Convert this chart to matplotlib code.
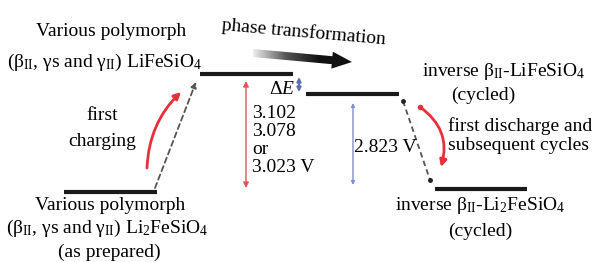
import numpy as np
import matplotlib
matplotlib.use("Agg")
import matplotlib.pyplot as plt
from matplotlib.patches import FancyArrow
from matplotlib.colors import LinearSegmentedColormap

plt.rcParams["font.family"] = ["Liberation Serif", "DejaVu Serif"]
plt.rcParams["mathtext.fontset"] = "custom"
plt.rcParams["mathtext.rm"] = "Liberation Serif"
plt.rcParams["mathtext.it"] = "Liberation Serif:italic"

# energy levels (x span and height in picture units)
level_names = ["LiFeSiO4 (various)", "inverse LiFeSiO4", "Li2FeSiO4 (as prepared)", "inverse Li2FeSiO4"]
level_left = [200, 306, 64, 435]
level_right = [293, 399, 157, 527]
level_y = [74, 94, 192, 189]

# voltage labels
first_voltages = ["3.102", "3.078", "or", "3.023 V"]
cycled_voltage = "2.823 V"

FS = 14
RED = "#e8303a"
BLUE = "#5a6fb8"

fig = plt.figure(figsize=(5.97, 2.62), dpi=100)
ax = fig.add_axes([0, 0, 1, 1])
ax.set_xlim(0, 597)
ax.set_ylim(262, 0)
ax.axis("off")

# level bars
for x0, x1, y in zip(level_left, level_right, level_y):
    ax.plot([x0, x1], [y, y], color="#1a1a1a", lw=3, solid_capstyle="butt")

# dashed transition lines
ax.annotate("", xy=(level_left[0] - 4, level_y[0] + 8), xytext=(level_right[2] - 2, level_y[2] - 4),
            arrowprops=dict(arrowstyle="-|>", color="#555555", lw=1.3, ls=(0, (3, 2)),
                            mutation_scale=8, shrinkA=0, shrinkB=0))
ax.plot([level_right[1] + 4, level_left[3] - 5], [level_y[1] + 7, level_y[3] - 9],
        color="#555555", lw=1.3, ls=(0, (3, 2)))
ax.plot([level_right[1] + 4, level_left[3] - 5], [level_y[1] + 7, level_y[3] - 9],
        "o", color="#222222", ms=2.5)

# curved red arrows
ax.annotate("", xy=(181, 92), xytext=(147, 168),
            arrowprops=dict(arrowstyle="-|>", color=RED, lw=2, mutation_scale=10,
                            connectionstyle="arc3,rad=-0.2", shrinkA=0, shrinkB=0))
ax.annotate("", xy=(441, 167), xytext=(420, 107),
            arrowprops=dict(arrowstyle="-|>", color=RED, lw=2, mutation_scale=10,
                            connectionstyle="arc3,rad=-0.35", shrinkA=0, shrinkB=0))
ax.plot([420], [107], "o", color=RED, ms=3)

# voltage arrows
xv = 246
ax.annotate("", xy=(xv, level_y[0] + 7), xytext=(xv, level_y[2] - 4),
            arrowprops=dict(arrowstyle="<|-|>", color="#e8505c", lw=1, mutation_scale=8,
                            shrinkA=0, shrinkB=0))
ax.annotate("", xy=(353, level_y[1] + 9), xytext=(353, level_y[3] - 4),
            arrowprops=dict(arrowstyle="<|-|>", color="#8090c8", lw=1, mutation_scale=5,
                            shrinkA=0, shrinkB=0))
ax.annotate("", xy=(299, 77), xytext=(299, 92),
            arrowprops=dict(arrowstyle="<|-|>", color=BLUE, lw=1.5, mutation_scale=6,
                            shrinkA=0, shrinkB=0))

# phase transformation arrow with gradient
arrow = FancyArrow(253, 53, 99, 9, width=8, head_width=17, head_length=20,
                   length_includes_head=True, fc="none", ec="none")
ax.add_patch(arrow)
cmap = LinearSegmentedColormap.from_list("g", ["#eeeeee", "#555555", "#111111", "#111111"])
grad = np.linspace(0, 1, 256).reshape(1, -1)
img = ax.imshow(grad, cmap=cmap, extent=[253, 352, 72, 42], aspect="auto", zorder=3)
img.set_clip_path(arrow)
ax.set_xlim(0, 597)
ax.set_ylim(262, 0)

# text
tk = dict(fontsize=FS, ha="center", va="center")
ax.text(111, 32, "Various polymorph", **tk)
ax.text(105, 62, r"(β$_{\rm II}$, γs and γ$_{\rm II}$) LiFeSiO$_4$", **tk)
ax.text(304, 32, "phase transformation", rotation=-5, **tk)
ax.text(282, 89, r"$\Delta E$", **tk)
for i, s in enumerate(first_voltages):
    ax.text(252, 113 + i * 18.3, s, fontsize=FS, ha="left", va="center")
ax.text(354, 147, cycled_voltage, fontsize=FS, ha="left", va="center")
ax.text(503, 72, r"inverse β$_{\rm II}$-LiFeSiO$_4$", **tk)
ax.text(483, 95, "(cycled)", **tk)
ax.text(102, 115, "first", **tk)
ax.text(102, 142, "charging", **tk)
ax.text(448, 126, "first discharge and", fontsize=FS, ha="left", va="center")
ax.text(448, 145, "subsequent cycles", fontsize=FS, ha="left", va="center")
ax.text(110, 205, "Various polymorph", **tk)
ax.text(107, 228, r"(β$_{\rm II}$, γs and γ$_{\rm II}$) Li$_2$FeSiO$_4$", **tk)
ax.text(109, 252, "(as prepared)", **tk)
ax.text(480, 206, r"inverse β$_{\rm II}$-Li$_2$FeSiO$_4$", **tk)
ax.text(480, 231, "(cycled)", **tk)

fig.savefig("out.png", dpi=100)
